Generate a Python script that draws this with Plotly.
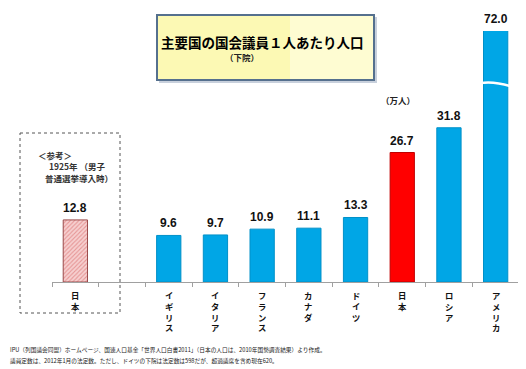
import plotly.graph_objects as go

# ---- data ----
keys = ["日本1925", "_gap", "イギリス", "イタリア", "フランス", "カナダ", "ドイツ", "日本", "ロシア", "アメリカ"]
labels = ["日本", "", "イギリス", "イタリア", "フランス", "カナダ", "ドイツ", "日本", "ロシア", "アメリカ"]
ref_key = ["日本1925"]
ref_value = [12.8]
country_keys = ["イギリス", "イタリア", "フランス", "カナダ", "ドイツ", "日本", "ロシア", "アメリカ"]
country_values = [9.6, 9.7, 10.9, 11.1, 13.3, 26.7, 31.8, 72.0]
title_text = "主要国の国会議員１人あたり人口"
subtitle_text = "（下院）"
unit_text = "（万人）"
note_lines = ["＜参考＞", "1925年 （男子", "普通選挙導入時）"]
footnotes = [
    "IPU（列国議会同盟）ホームページ、国連人口基金「世界人口白書2011」（日本の人口は、2010年国勢調査結果）より作成。",
    "議員定数は、2012年1月の法定数。ただし、ドイツの下院は法定数は598だが、超過議席を含め現在620。",
]
Y_MAX = 51.75  # axis is broken for the tallest bar

BLUE = "#00A6E6"
RED = "#FF0000"
OFF = 8  # page body margin
W, H = 526 - OFF, 369 - OFF
PL, PT, PW, PH = 52, 31, 467, 251   # plot area in page pixels
L, T = PL - OFF, PT - OFF
R, B = W - L - PW, H - T - PH

def px(x):
    return (x - PL) / PW

def py(y):
    return (PT + PH - y) / PH

JP = "Noto Sans CJK JP"

colors = [RED if k == "日本" else BLUE for k in country_keys]
lines = ["#C00000" if k == "日本" else "#0090C8" for k in country_keys]

fig = go.Figure()
fig.add_trace(go.Bar(
    x=ref_key, y=ref_value, width=0.52,
    marker=dict(color="#F4C4C4", line=dict(color="#9A4A4A", width=1),
                pattern=dict(shape="/", fgcolor="#D65A5A", bgcolor="#F6D0D0", size=3, solidity=0.35)),
    hoverinfo="skip",
))
fig.add_trace(go.Bar(
    x=country_keys, y=country_values, width=0.52,
    marker=dict(color=colors, line=dict(color=lines, width=1)),
    hoverinfo="skip",
))

ann = []
bold = dict(family="Liberation Sans, Arial", size=12, color="#111")
# value labels
for k, v in zip(ref_key + country_keys, ref_value + country_values):
    if v <= Y_MAX:
        ann.append(dict(x=k, y=v, xref="x", yref="y", text=f"<b>{v:.1f}</b>", showarrow=False,
                        xanchor="center", yanchor="bottom", yshift=3, font=bold))
    else:
        ann.append(dict(x=k, y=1, xref="x", yref="paper", text=f"<b>{v:.1f}</b>", showarrow=False,
                        xanchor="center", yanchor="bottom", yshift=3, font=bold))
# vertical category labels (one character per line)
for k, lab in zip(keys, labels):
    if lab:
        ann.append(dict(x=k, y=0, xref="x", yref="y", text="<b>" + "<br>".join(lab) + "</b>",
                        showarrow=False, xanchor="center", yanchor="top", yshift=-6,
                        borderpad=0, font=dict(family=JP, size=8.3, color="#111")))

def txt(x, y, s, size, color="#222", xa="center", family=JP):
    ann.append(dict(x=px(x), y=py(y), xref="paper", yref="paper", text=s, showarrow=False,
                    xanchor=xa, yanchor="middle", font=dict(family=family, size=size, color=color)))

# title box text
txt(262, 42, f"<b>{title_text}</b>", 13.5, "#000")
txt(242, 57, f"<b>{subtitle_text}</b>", 8.5)
txt(398, 100, f"<b>{unit_text}</b>", 8.5)
# reference note
txt(36, 155, f"<b>{note_lines[0]}</b>", 8.5, "#333", xa="left")
txt(77, 166, f"<b>{note_lines[1]}</b>", 8.5, "#333")
txt(79, 178, f"<b>{note_lines[2]}</b>", 8.5, "#333")
# footnotes
for i, t in enumerate(footnotes):
    txt(8, 349 + 11 * i, t, 5.7, "#1a1a1a", xa="left")

shapes = [
    # title box shadow + box
    dict(type="rect", xref="paper", yref="paper", x0=px(159), x1=px(377), y0=py(17), y1=py(83),
         fillcolor="#C8D0DC", line=dict(width=0), layer="below"),
    dict(type="rect", xref="paper", yref="paper", x0=px(157), x1=px(374), y0=py(15), y1=py(80),
         fillcolor="#FCF9B4", line=dict(color="#55708E", width=2), layer="below"),
    dict(type="rect", xref="paper", yref="paper", x0=px(290), x1=px(373), y0=py(16), y1=py(79),
         fillcolor="rgba(255,255,235,0.55)", line=dict(width=0), layer="below"),
    # dotted reference box
    dict(type="rect", xref="paper", yref="paper", x0=px(20), x1=px(120), y0=py(133), y1=py(313),
         fillcolor="rgba(0,0,0,0)", line=dict(color="#555", width=1, dash="dot")),
    # break mark on tallest bar
    dict(type="path", xref="paper", yref="paper",
         path=f"M {px(480)},{py(83)} Q {px(494)},{py(81)} {px(510)},{py(86)}",
         line=dict(color="white", width=2.5)),
]

fig.update_layout(
    width=W, height=H, margin=dict(l=L, r=R, t=T, b=B, pad=0),
    paper_bgcolor="white", plot_bgcolor="white",
    barmode="overlay", showlegend=False,
    annotations=ann, shapes=shapes,
    xaxis=dict(type="category", categoryorder="array", categoryarray=keys,
               range=[-0.5, len(keys) - 0.5], showticklabels=False,
               showline=True, linecolor="#A0A0A0", linewidth=1,
               ticks="outside", tickson="boundaries", ticklen=4, tickcolor="#A0A0A0",
               showgrid=False, zeroline=False, fixedrange=True),
    yaxis=dict(range=[0, Y_MAX], visible=False, showgrid=False, fixedrange=True),
)

fig.write_html("out.html")
